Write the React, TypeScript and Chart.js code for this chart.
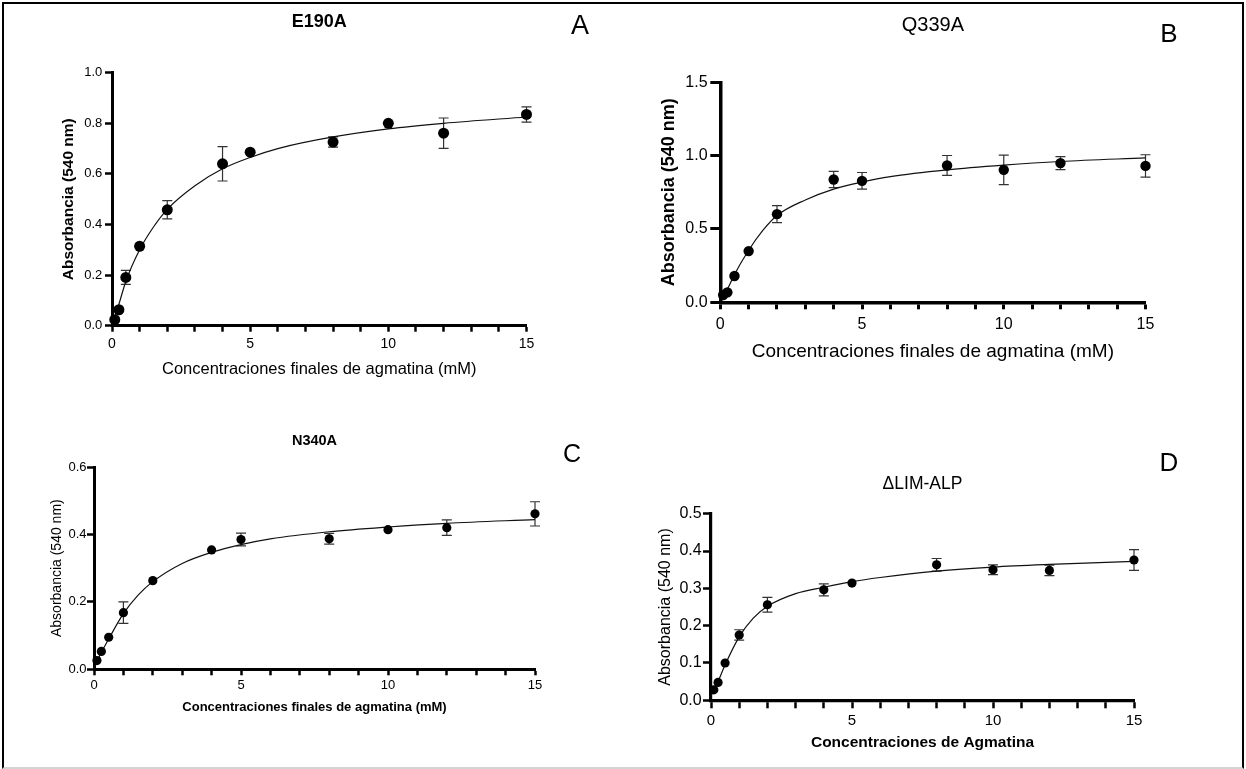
import React, { useEffect, useRef } from "react";
import { Chart, registerables } from "chart.js";

Chart.register(...registerables);

const W = 1246;
const H = 769;
const FONT = "'Liberation Sans', Arial, Helvetica, sans-serif";

// ---------- data ----------
const concentrations = [0.1, 0.25, 0.5, 1, 2, 4, 5, 8, 10, 12, 15];
const curveX = [0, 0.25, 0.5, 1, 1.5, 2, 3, 4, 5, 6, 8, 10, 12, 15];
const xMinorTicks = [0, 1, 2, 3, 4, 5, 6, 7, 8, 9, 10, 11, 12, 13, 14, 15];
const xTickLabels = [0, 5, 10, 15];

// A: E190A
const absE190A = [0.024, 0.063, 0.191, 0.314, 0.458, 0.64, 0.686, 0.726, 0.8, 0.761, 0.835];
const errE190A = [0, 0, 0.028, 0, 0.036, 0.068, 0, 0.02, 0, 0.06, 0.03];
const fitE190A = [0, 0.085, 0.175, 0.3, 0.39, 0.46, 0.553, 0.62, 0.665, 0.7, 0.746, 0.778, 0.8, 0.825];
const yTicksE190A = [0, 0.2, 0.4, 0.6, 0.8, 1.0];

// B: Q339A
const absQ339A = [0.05, 0.068, 0.179, 0.349, 0.601, 0.837, 0.828, 0.933, 0.903, 0.949, 0.93];
const errQ339A = [0, 0, 0, 0, 0.058, 0.055, 0.057, 0.068, 0.1, 0.044, 0.076];
const fitQ339A = [0.02, 0.09, 0.19, 0.355, 0.49, 0.592, 0.698, 0.772, 0.82, 0.857, 0.903, 0.935, 0.96, 0.985];
const yTicksQ339A = [0, 0.5, 1.0, 1.5];

// C: N340A
const absN340A = [0.026, 0.053, 0.095, 0.168, 0.263, 0.354, 0.385, 0.387, 0.414, 0.42, 0.461];
const errN340A = [0, 0, 0, 0.032, 0, 0, 0.019, 0.016, 0, 0.023, 0.036];
const fitN340A = [0.005, 0.05, 0.09, 0.165, 0.22, 0.26, 0.314, 0.347, 0.37, 0.387, 0.408, 0.422, 0.433, 0.444];
const yTicksN340A = [0, 0.2, 0.4, 0.6];

// D: ΔLIM-ALP
const absDLIM = [0.028, 0.048, 0.1, 0.175, 0.256, 0.296, 0.314, 0.363, 0.35, 0.348, 0.376];
const errDLIM = [0, 0, 0, 0.014, 0.02, 0.016, 0, 0.017, 0.013, 0.014, 0.028];
const fitDLIM = [0.012, 0.05, 0.095, 0.17, 0.22, 0.252, 0.286, 0.303, 0.318, 0.329, 0.346, 0.357, 0.364, 0.372];
const yTicksDLIM = [0, 0.1, 0.2, 0.3, 0.4, 0.5];

const yLabel = "Absorbancia (540 nm)";

// ---------- layout / style per panel ----------
type Panel = {
  title: string; xTitle: string;
  ys: number[]; errs: number[]; fit: number[]; yTicks: number[];
  L: number; R: number; T: number; B: number;
  titleY: number; titleSize: number; titleWeight: string;
  yTitleX: number; yTitleSize: number; yTitleWeight: string;
  xTitleY: number; xTitleSize: number; xTitleWeight: string;
  yTickSize: number; xTickSize: number;
  yTickLen: number; yPad: number; xTickLen: number; xPad: number;
  axisW: number; tickW: number; r: number;
};

const panels: Panel[] = [
  {
    title: "E190A", xTitle: "Concentraciones finales de agmatina (mM)",
    ys: absE190A, errs: errE190A, fit: fitE190A, yTicks: yTicksE190A,
    L: 112, R: 526.5, T: 72.7, B: 325.7,
    titleY: 22, titleSize: 18, titleWeight: "bold",
    yTitleX: 68.5, yTitleSize: 15.5, yTitleWeight: "bold",
    xTitleY: 369, xTitleSize: 16.5, xTitleWeight: "normal",
    yTickSize: 13, xTickSize: 14, yTickLen: 7, yPad: 2.7, xTickLen: 6, xPad: 4,
    axisW: 3, tickW: 2.5, r: 5.5,
  },
  {
    title: "Q339A", xTitle: "Concentraciones finales de agmatina (mM)",
    ys: absQ339A, errs: errQ339A, fit: fitQ339A, yTicks: yTicksQ339A,
    L: 720.3, R: 1145.5, T: 82.3, B: 302.3,
    titleY: 25, titleSize: 20, titleWeight: "normal",
    yTitleX: 668.6, yTitleSize: 18, yTitleWeight: "bold",
    xTitleY: 352, xTitleSize: 19, xTitleWeight: "normal",
    yTickSize: 16, xTickSize: 16, yTickLen: 10, yPad: 2.7, xTickLen: 7, xPad: 5.8,
    axisW: 3.5, tickW: 3, r: 5.2,
  },
  {
    title: "N340A", xTitle: "Concentraciones finales de agmatina (mM)",
    ys: absN340A, errs: errN340A, fit: fitN340A, yTicks: yTicksN340A,
    L: 94, R: 535, T: 467, B: 669.3,
    titleY: 441, titleSize: 14.5, titleWeight: "bold",
    yTitleX: 57, yTitleSize: 14, yTitleWeight: "normal",
    xTitleY: 707, xTitleSize: 13, xTitleWeight: "bold",
    yTickSize: 13, xTickSize: 13, yTickLen: 7, yPad: 0.5, xTickLen: 6, xPad: 2.7,
    axisW: 3, tickW: 2.5, r: 4.6,
  },
  {
    title: "\u0394LIM-ALP", xTitle: "Concentraciones de Agmatina",
    ys: absDLIM, errs: errDLIM, fit: fitDLIM, yTicks: yTicksDLIM,
    L: 711, R: 1134, T: 513.7, B: 700.3,
    titleY: 484, titleSize: 17.5, titleWeight: "normal",
    yTitleX: 666, yTitleSize: 16, yTitleWeight: "normal",
    xTitleY: 743, xTitleSize: 15.5, xTitleWeight: "bold",
    yTickSize: 16, xTickSize: 15, yTickLen: 8, yPad: 1.3, xTickLen: 8, xPad: 3.2,
    axisW: 3.2, tickW: 2.5, r: 4.6,
  },
];

const letters = [
  { text: "A", x: 580, y: 25, size: 27 },
  { text: "B", x: 1169, y: 33, size: 26 },
  { text: "C", x: 572, y: 453, size: 25 },
  { text: "D", x: 1169, y: 462, size: 26 },
];

const errorBarPlugin = {
  id: "errorBars",
  beforeDatasetsDraw(chart: any, _args: any, opts: any) {
    const errs: number[] = opts.errors;
    if (!errs) return;
    const ds = chart.data.datasets[0];
    const xs = chart.scales.x;
    const ys = chart.scales.y;
    const ctx = chart.ctx;
    ctx.save();
    ctx.strokeStyle = opts.color;
    ctx.lineWidth = opts.width;
    ds.data.forEach((pt: any, i: number) => {
      const e = errs[i];
      if (!e) return;
      const px = xs.getPixelForValue(pt.x);
      const y1 = ys.getPixelForValue(pt.y + e);
      const y2 = ys.getPixelForValue(pt.y - e);
      ctx.beginPath();
      ctx.moveTo(px, y1);
      ctx.lineTo(px, y2);
      ctx.moveTo(px - opts.cap, y1);
      ctx.lineTo(px + opts.cap, y1);
      ctx.moveTo(px - opts.cap, y2);
      ctx.lineTo(px + opts.cap, y2);
      ctx.stroke();
    });
    ctx.restore();
  },
};

function buildChart(canvas: HTMLCanvasElement, p: Panel) {
  const padLeft = p.yTitleX - 0.6 * p.yTitleSize;
  const yWidth = p.L - padLeft;
  const xBottom = p.xTitleY + 0.6 * p.xTitleSize;
  const padBottom = H - xBottom;
  const xHeight = xBottom - p.B;
  const padTop = p.titleY - 0.6 * p.titleSize;
  const titlePadBottom = p.T - padTop - 1.2 * p.titleSize;
  const padRight = W - p.R;

  return new Chart(canvas, {
    type: "scatter",
    data: {
      datasets: [
        {
          data: concentrations.map((x, i) => ({ x, y: p.ys[i] })),
          pointRadius: p.r,
          pointHoverRadius: p.r,
          backgroundColor: "#000",
          borderColor: "#000",
          borderWidth: 0,
          showLine: false,
          clip: false,
        } as any,
        {
          data: curveX.map((x, i) => ({ x, y: p.fit[i] })),
          showLine: true,
          pointRadius: 0,
          pointHoverRadius: 0,
          borderColor: "#111",
          borderWidth: 1.2,
          cubicInterpolationMode: "monotone",
          fill: false,
          clip: false,
        } as any,
      ],
    },
    options: {
      responsive: false,
      animation: false,
      events: [],
      layout: { padding: { left: padLeft, right: padRight, top: padTop, bottom: padBottom } },
      plugins: {
        legend: { display: false },
        tooltip: { enabled: false },
        title: {
          display: true,
          text: p.title,
          fullSize: false,
          color: "#000",
          font: { family: FONT, size: p.titleSize, weight: p.titleWeight as any, lineHeight: 1.2 },
          padding: { top: 0, bottom: titlePadBottom },
        },
        errorBars: { errors: p.errs, color: "#333", width: 1.2, cap: 5 },
      } as any,
      scales: {
        x: {
          type: "linear",
          min: 0,
          max: 15,
          afterBuildTicks: (s: any) => {
            s.ticks = xMinorTicks.map((v) => ({ value: v }));
          },
          afterFit: (s: any) => {
            s.height = xHeight;
            s.paddingLeft = 0;
            s.paddingRight = 0;
          },
          grid: {
            display: true,
            drawOnChartArea: false,
            drawTicks: true,
            tickLength: p.xTickLen,
            tickWidth: p.tickW,
            tickColor: "#000",
            color: "#000",
          },
          border: { display: true, color: "#000", width: p.axisW },
          ticks: {
            autoSkip: false,
            maxRotation: 0,
            padding: p.xPad,
            color: "#000",
            font: { family: FONT, size: p.xTickSize, lineHeight: 1.2 },
            callback: (v: any) => (xTickLabels.includes(Number(v)) ? String(v) : ""),
          },
          title: {
            display: true,
            text: p.xTitle,
            color: "#000",
            font: { family: FONT, size: p.xTitleSize, weight: p.xTitleWeight as any, lineHeight: 1.2 },
            padding: { top: 0, bottom: 0 },
          },
        },
        y: {
          type: "linear",
          min: 0,
          max: p.yTicks[p.yTicks.length - 1],
          afterBuildTicks: (s: any) => {
            s.ticks = p.yTicks.map((v) => ({ value: v }));
          },
          afterFit: (s: any) => {
            s.width = yWidth;
            s.paddingTop = 0;
            s.paddingBottom = 0;
          },
          grid: {
            display: true,
            drawOnChartArea: false,
            drawTicks: true,
            tickLength: p.yTickLen,
            tickWidth: p.tickW,
            tickColor: "#000",
            color: "#000",
          },
          border: { display: true, color: "#000", width: p.axisW },
          ticks: {
            autoSkip: false,
            padding: p.yPad,
            color: "#000",
            font: { family: FONT, size: p.yTickSize, lineHeight: 1.2 },
            callback: (v: any) => Number(v).toFixed(1),
          },
          title: {
            display: true,
            text: yLabel,
            color: "#000",
            font: { family: FONT, size: p.yTitleSize, weight: p.yTitleWeight as any, lineHeight: 1.2 },
            padding: { top: 0, bottom: 0 },
          },
        },
      },
    },
    plugins: [errorBarPlugin as any],
  });
}

export default function App() {
  const refs = useRef<(HTMLCanvasElement | null)[]>([]);

  useEffect(() => {
    const charts = panels.map((p, i) => buildChart(refs.current[i] as HTMLCanvasElement, p));
    return () => charts.forEach((c) => c.destroy());
  }, []);

  return (
    <div
      style={{
        position: "absolute",
        left: 0,
        top: 0,
        width: W,
        height: H,
        background: "#fff",
        overflow: "hidden",
        fontFamily: FONT,
      }}
    >
      <div
        style={{
          position: "absolute",
          left: 2,
          top: 2,
          width: 1242,
          height: 767,
          boxSizing: "border-box",
          borderTop: "2px solid #000",
          borderLeft: "2px solid #000",
          borderRight: "2px solid #000",
          borderBottom: "2px solid #d4d4d4",
        }}
      />
      {panels.map((p, i) => (
        <canvas
          key={p.title}
          ref={(el) => {
            refs.current[i] = el;
          }}
          width={W}
          height={H}
          style={{ position: "absolute", left: 0, top: 0, width: W, height: H }}
        />
      ))}
      {letters.map((l) => (
        <div
          key={l.text}
          style={{
            position: "absolute",
            left: l.x,
            top: l.y,
            transform: "translate(-50%, -50%)",
            fontSize: l.size,
            lineHeight: 1,
            color: "#000",
            fontFamily: FONT,
          }}
        >
          {l.text}
        </div>
      ))}
    </div>
  );
}
